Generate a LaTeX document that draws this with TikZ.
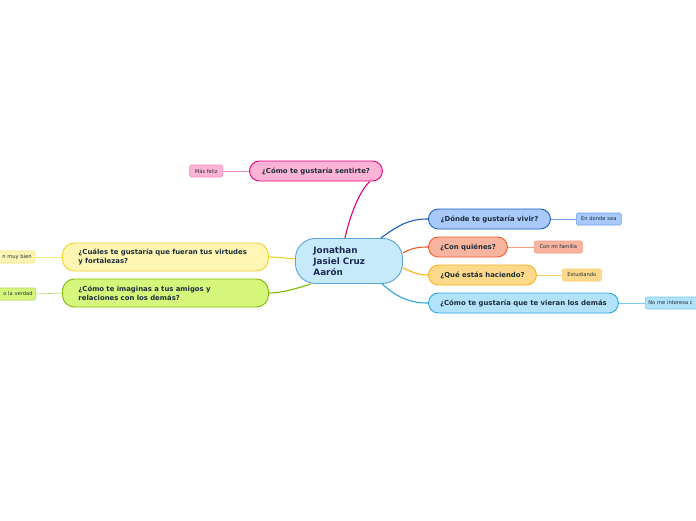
\documentclass[tikz,border=0pt]{standalone}
\usepackage{fontspec}
\setmainfont{DejaVu Sans}
\definecolor{txt}{HTML}{1C2E3A}
\definecolor{navy}{HTML}{1B2A55}
\definecolor{cenF}{HTML}{C7EAFB}\definecolor{cenD}{HTML}{5BA3D9}
\definecolor{pinkF}{HTML}{FDB3D6}\definecolor{pinkD}{HTML}{E6007E}\definecolor{pinkL}{HTML}{F58CC0}
\definecolor{blueF}{HTML}{A8C9FA}\definecolor{blueD}{HTML}{1B5FC6}\definecolor{blueL}{HTML}{6F9FE6}
\definecolor{oraF}{HTML}{F9B4A0}\definecolor{oraD}{HTML}{F05A28}\definecolor{oraL}{HTML}{F79A80}
\definecolor{yelF}{HTML}{FFD98A}\definecolor{yelD}{HTML}{F8B21C}\definecolor{yelL}{HTML}{FBCB6A}
\definecolor{ltbF}{HTML}{B2E3FA}\definecolor{ltbD}{HTML}{29A8E0}\definecolor{ltbL}{HTML}{7CCAEE}
\definecolor{lyF}{HTML}{FFF6B3}\definecolor{lyD}{HTML}{EDD22A}\definecolor{lyL}{HTML}{F5E57A}
\definecolor{grF}{HTML}{D7F77C}\definecolor{grD}{HTML}{7DBA00}\definecolor{grL}{HTML}{ADD95A}
\begin{document}
\begin{tikzpicture}[x=1pt,y=-1pt,
  central/.style={draw=cenD,fill=cenF,line width=0.9pt,rounded corners=20pt,
    minimum width=107pt,minimum height=45pt,inner xsep=18pt,align=left,text width=71pt,
    text=navy,font=\fontsize{8.8}{11}\selectfont\bfseries},
  mainq/.style={rounded corners=10pt,line width=0.9pt,minimum height=20pt,inner xsep=2pt,
    text=txt,font=\fontsize{6.9}{8}\selectfont\bfseries},
  twoq/.style={rounded corners=12pt,line width=0.9pt,minimum height=28pt,minimum width=206pt,
    inner xsep=16pt,align=left,text width=174pt,text=txt,font=\fontsize{6.9}{8.8}\selectfont\bfseries},
  small/.style={rounded corners=1.5pt,line width=0.6pt,minimum height=12pt,inner xsep=3pt,inner ysep=1pt,
    text=txt,font=\fontsize{5.2}{6}\selectfont},
  conn/.style={line width=1.1pt},
  lconn/.style={line width=0.6pt}]
\useasboundingbox (0,0) rectangle (696,520);
\clip (0,0) rectangle (696,520);
\fill[white] (0,0) rectangle (696,520);

\node[central,anchor=north west] (c) at (295,238) {Jonathan\\Jasiel Cruz\\Aarón};

\node[mainq,draw=pinkD,fill=pinkF,minimum width=133pt,anchor=west] (q1) at (249,171) {¿Cómo te gustaría sentirte?};
\node[mainq,draw=blueD,fill=blueF,minimum width=122pt,anchor=west] (q2) at (428,219) {¿Dónde te gustaría vivir?};
\node[mainq,draw=oraD,fill=oraF,minimum width=79pt,anchor=west] (q3) at (428,247) {¿Con quiénes?};
\node[mainq,draw=yelD,fill=yelF,minimum width=108pt,anchor=west] (q4) at (428,275) {¿Qué estás haciendo?};
\node[mainq,draw=ltbD,fill=ltbF,minimum width=190pt,anchor=west] (q5) at (428,303) {¿Cómo te gustaría que te vieran los demás};
\node[twoq,draw=lyD,fill=lyF,anchor=west] (q6) at (62,257) {¿Cuáles te gustaría que fueran tus virtudes\\y fortalezas?};
\node[twoq,draw=grD,fill=grF,anchor=west] (q7) at (62,293) {¿Cómo te imaginas a tus amigos y\\relaciones con los demás?};

\node[small,draw=pinkL,fill=pinkF,minimum width=33pt,anchor=east] (s1) at (223,171) {Más feliz};
\node[small,draw=blueL,fill=blueF,minimum width=45pt,anchor=west] (s2) at (576,219) {En donde sea};
\node[small,draw=oraL,fill=oraF,minimum width=48pt,anchor=west] (s3) at (534,247) {Con mi familia};
\node[small,draw=yelL,fill=yelF,minimum width=39pt,anchor=west] (s4) at (562,275) {Estudiando};
\node[small,draw=ltbL,fill=ltbF,anchor=west,align=left,text width=90pt] (s5) at (645,303) {No me interesa c};
\node[small,draw=lyL,fill=lyF,anchor=east,align=right,text width=50pt] (s6) at (35,257) {n muy bien};
\node[small,draw=grL,fill=grF,anchor=east,align=right,text width=50pt] (s7) at (36,294) {o la verdad};

\draw[conn,pinkD] ([xshift=-4pt]c.north) .. controls (350,215) and (360,190) .. ([xshift=-13pt]q1.south east);
\draw[conn,blueD] ([xshift=32pt]c.north) .. controls (400,224) and (410,219) .. (q2.west);
\draw[conn,oraD] ([yshift=8pt]c.east) .. controls (412,248) and (418,247) .. (q3.west);
\draw[conn,yelD] ([yshift=-7pt]c.east) .. controls (412,272) and (418,275) .. (q4.west);
\draw[conn,ltbD] ([xshift=33pt]c.south) .. controls (398,298) and (410,303) .. (q5.west);
\draw[conn,lyD] ([yshift=2pt]c.west) .. controls (285,258) and (275,257) .. (q6.east);
\draw[conn,grD] ([xshift=-38pt]c.south) .. controls (292,290) and (280,293) .. (q7.east);

\draw[lconn,pinkL] (q1.west) -- (s1.east);
\draw[lconn,blueL] (q2.east) -- (s2.west);
\draw[lconn,oraL] (q3.east) -- (s3.west);
\draw[lconn,yelL] (q4.east) -- (s4.west);
\draw[lconn,ltbL] (q5.east) -- (s5.west);
\draw[lconn,lyL] (q6.west) -- (s6.east);
\draw[lconn,grL] (q7.west) -- (s7.east);
\end{tikzpicture}
\end{document}
